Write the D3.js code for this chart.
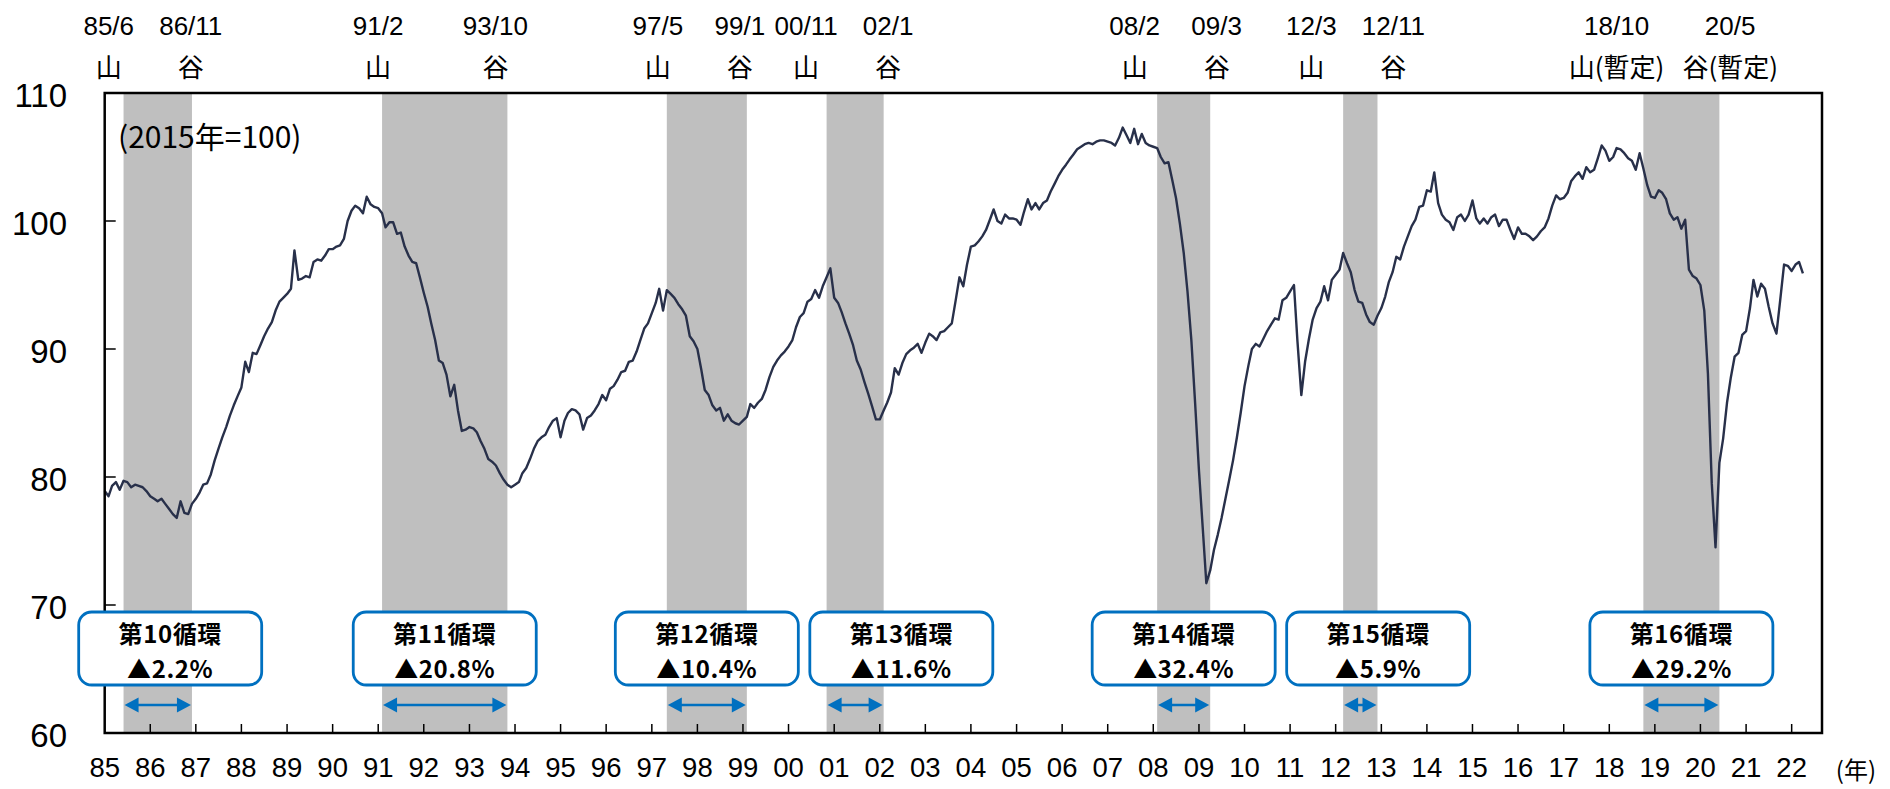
<!DOCTYPE html>
<html><head><meta charset="utf-8">
<script src="https://cdn.jsdelivr.net/npm/d3@7"></script>
<style>body{margin:0;background:#fff}svg{display:block}</style>
</head><body><svg id="chart" width="1890" height="789"></svg>
<script>
// ---------------- data ----------------
const startYear = 1985;           // first month: 1985/1
const iip = [
  78.9,78.5,79.3,79.6,79.0,79.7,79.6,79.2,79.4,79.3,79.2,78.9,          // 1985
  78.5,78.3,78.1,78.3,77.9,77.5,77.1,76.8,78.1,77.2,77.1,77.9,          // 1986
  78.3,78.8,79.4,79.5,80.2,81.3,82.2,83.1,83.9,84.8,85.6,86.3,          // 1987
  87.0,89.0,88.2,89.7,89.6,90.3,91.0,91.6,92.1,93.0,93.7,94.0,          // 1988
  94.3,94.7,97.7,95.4,95.5,95.7,95.6,96.8,97.0,96.9,97.3,97.8,          // 1989
  97.8,98.0,98.1,98.6,100.0,100.8,101.2,101.0,100.6,101.9,101.3,101.1,  // 1990
  101.0,100.6,99.5,99.9,99.9,99.0,99.1,98.0,97.3,96.8,96.7,95.6,        // 1991
  94.4,93.3,92.0,90.7,89.1,88.9,88.0,86.3,87.2,85.2,83.6,83.7,          // 1992
  83.9,83.8,83.5,82.8,82.2,81.4,81.2,80.9,80.3,79.8,79.4,79.2,          // 1993
  79.4,79.6,80.3,80.7,81.4,82.2,82.8,83.1,83.3,83.9,84.4,84.6,          // 1994
  83.1,84.4,85.0,85.3,85.2,84.9,83.7,84.6,84.8,85.2,85.7,86.4,          // 1995
  86.0,86.9,87.1,87.6,88.2,88.3,89.0,89.1,89.8,90.7,91.6,92.0,          // 1996
  92.8,93.6,94.7,93.0,94.6,94.3,94.0,93.5,93.1,92.6,91.0,90.6,          // 1997
  90.0,88.4,86.8,86.4,85.6,85.2,85.4,84.4,84.9,84.4,84.2,84.1,          // 1998
  84.4,84.7,85.7,85.4,85.8,86.1,86.8,87.8,88.6,89.1,89.5,89.8,          // 1999
  90.2,90.7,91.7,92.5,92.8,93.7,93.9,94.6,94.0,94.9,95.6,96.3,          // 2000
  94.0,93.6,92.9,92.0,91.2,90.3,89.1,88.4,87.4,86.5,85.5,84.5,          // 2001
  84.5,85.2,85.8,86.6,88.5,88.0,88.9,89.6,89.9,90.1,90.4,89.7,          // 2002
  90.5,91.2,91.0,90.7,91.3,91.4,91.7,92.0,93.8,95.6,94.9,96.6,          // 2003
  98.0,98.1,98.4,98.8,99.3,100.1,100.9,100.0,99.8,100.5,100.2,100.2,    // 2004
  100.1,99.7,100.7,101.7,100.9,101.4,100.9,101.4,101.6,102.3,102.9,103.5, // 2005
  104.0,104.4,104.8,105.2,105.6,105.8,106.0,106.1,106.0,106.2,106.3,106.3, // 2006
  106.2,106.1,105.9,106.5,107.3,106.7,106.1,107.2,106.0,106.8,106.1,105.9, // 2007
  105.8,105.7,105.0,104.5,104.6,103.2,101.8,99.8,97.5,94.5,90.7,85.8,   // 2008
  80.5,75.9,71.7,72.7,74.3,75.5,76.8,78.3,79.8,81.3,83.1,85.0,          // 2009
  87.1,88.7,90.0,90.4,90.2,90.8,91.4,91.9,92.4,92.3,93.8,94.0,          // 2010
  94.5,95.0,90.6,86.4,89.0,90.8,92.3,93.2,93.7,94.9,93.8,95.4,          // 2011
  95.8,96.2,97.5,96.7,96.0,94.6,93.7,93.6,92.7,92.1,91.9,92.6,          // 2012
  93.2,94.1,95.2,96.0,97.2,97.0,98.0,98.8,99.6,100.1,101.1,101.2,       // 2013
  102.4,102.3,103.8,101.4,100.5,100.1,99.9,99.3,100.3,100.5,100.0,100.5, // 2014
  101.6,100.2,99.8,100.2,99.8,100.3,100.5,99.6,100.1,100.1,99.3,98.6,   // 2015
  99.5,99.0,99.0,98.8,98.5,98.8,99.2,99.5,100.2,101.2,102.0,101.7,      // 2016
  101.8,102.2,103.1,103.5,103.8,103.3,104.2,103.8,104.0,104.9,105.9,105.5, // 2017
  104.7,105.0,105.7,105.6,105.3,104.9,104.7,104.0,105.3,104.1,102.8,101.9, // 2018
  101.8,102.4,102.2,101.7,100.6,100.1,100.3,99.4,100.1,96.2,95.7,95.5,  // 2019
  95.0,93.0,88.1,79.5,74.5,81.1,83.0,85.8,87.8,89.4,89.7,91.1,          // 2020
  91.4,93.2,95.4,94.1,95.1,94.7,93.3,92.0,91.2,93.8,96.6,96.5,          // 2021
  96.1,96.6,96.8,95.9                                                   // 2022
];
const yTickValues = [60, 70, 80, 90, 100, 110];
const cycleNames = ["第10循環","第11循環","第12循環","第13循環","第14循環","第15循環","第16循環"];
const cycleDeclines = [2.2, 20.8, 10.4, 11.6, 32.4, 5.9, 29.2];
const peakDates   = ["1985-06","1991-02","1997-05","2000-11","2008-02","2012-03","2018-10"];
const troughDates = ["1986-11","1993-10","1999-01","2002-01","2009-03","2012-11","2020-05"];
const provisional = [false,false,false,false,false,false,true];
const peakMark = "山", troughMark = "谷", provMark = "(暫定)";
const baseNote = "(2015年=100)";
const yearUnit = "(年)";

// ---------------- layout ----------------
const plot = {left:104.7, right:1822, top:93, bottom:733};
const LAT = "'Liberation Sans', Arial, sans-serif";
const CJK = "'Noto Sans CJK JP', 'Noto Sans CJK SC', sans-serif";
const parse = d3.timeParse("%Y-%m");
const x = d3.scaleTime().domain([new Date(1985,0,1), new Date(2022,8,1)]).range([plot.left, plot.right]);
const y = d3.scaleLinear().domain([60,110]).range([plot.bottom, plot.top]);
const series = iip.map((v,i)=>({date:new Date(startYear, i, 1), v}));
const cycles = cycleNames.map((name,i)=>{
  const peak = parse(peakDates[i]), trough = parse(troughDates[i]);
  return {name, decline:cycleDeclines[i], peak, trough, prov:provisional[i],
          x0:x(peak), x1:x(d3.timeMonth.offset(trough,1))};
});

const svg = d3.select("#chart");
svg.append("rect").attr("width",1890).attr("height",789).attr("fill","#fff");

// recession bands
svg.append("g").selectAll("rect").data(cycles).join("rect")
  .attr("x",d=>d.x0).attr("y",plot.top)
  .attr("width",d=>d.x1-d.x0).attr("height",plot.bottom-plot.top)
  .attr("fill","#bfbfbf");

// line
svg.append("path").datum(series)
  .attr("fill","none").attr("stroke","#28304a").attr("stroke-width",2.4)
  .attr("stroke-linejoin","round")
  .attr("d", d3.line().x(d=>x(d.date)).y(d=>y(d.v)));

// frame
svg.append("rect").attr("x",plot.left).attr("y",plot.top)
  .attr("width",plot.right-plot.left).attr("height",plot.bottom-plot.top)
  .attr("fill","none").attr("stroke","#000").attr("stroke-width",2.5);

// y ticks + labels
const yg = svg.append("g");
yg.selectAll("line").data(yTickValues).join("line")
  .attr("x1",plot.left).attr("x2",plot.left+11)
  .attr("y1",d=>y(d)).attr("y2",d=>y(d)).attr("stroke","#000").attr("stroke-width",1.5);
yg.selectAll("text").data(yTickValues).join("text")
  .attr("x",67).attr("y",d=>y(d)+2).attr("text-anchor","end")
  .attr("dominant-baseline","central")
  .attr("font-family",LAT).attr("font-size",33).text(d=>d);

// x ticks + labels
const tickYears = d3.timeYear.range(new Date(1986,0,1), new Date(2023,0,1));
const labelYears = d3.timeYear.range(new Date(1985,0,1), new Date(2023,0,1));
const xg = svg.append("g");
xg.selectAll("line").data(tickYears).join("line")
  .attr("x1",d=>x(d)).attr("x2",d=>x(d))
  .attr("y1",plot.bottom).attr("y2",plot.bottom-9).attr("stroke","#000").attr("stroke-width",1.5);
xg.selectAll("text").data(labelYears).join("text")
  .attr("x",d=>x(d)).attr("y",767).attr("text-anchor","middle")
  .attr("dominant-baseline","central")
  .attr("font-family",LAT).attr("font-size",27.5).text(d3.timeFormat("%y"));
svg.append("text").attr("x",1876).attr("y",768).attr("text-anchor","end")
  .attr("dominant-baseline","central")
  .attr("font-family",CJK).attr("font-size",24).text(yearUnit);

// base note
svg.append("text").attr("x",118).attr("y",135).attr("dominant-baseline","central")
  .attr("font-family",CJK).attr("font-size",30).text(baseNote);

// top peak / trough labels
const fmtYM = d => d3.timeFormat("%y")(d) + "/" + (d.getMonth()+1);
const topG = svg.append("g");
cycles.forEach(c=>{
  const items = [
    {date:fmtYM(c.peak),   mark:peakMark   + (c.prov?provMark:"")},
    {date:fmtYM(c.trough), mark:troughMark + (c.prov?provMark:"")}
  ];
  const texts = items.map(it=>{
    const t1 = topG.append("text").attr("y",26).attr("text-anchor","middle")
      .attr("dominant-baseline","central").attr("font-family",LAT).attr("font-size",26).text(it.date);
    const t2 = topG.append("text").attr("y",65).attr("text-anchor","middle")
      .attr("dominant-baseline","central").attr("font-family",CJK).attr("font-size",26).text(it.mark);
    return [t1,t2];
  });
  const maxW = d3.max(texts.flat(), t=>t.node().getComputedTextLength());
  const mid = (c.x0 + c.x1)/2 - 8;
  const half = Math.max((c.x1 - c.x0)/2 - 4, 41, maxW/2 + 9);
  texts[0].forEach(t=>t.attr("x", mid - half));
  texts[1].forEach(t=>t.attr("x", mid + half));
});

// cycle boxes
const bw = 183, bh = 73, boxTop = 612, gap = 11.5;
let prevRight = -Infinity;
cycles.forEach(c=>{
  let cx = (c.x0 + c.x1)/2;
  cx = Math.max(cx, plot.left - 26 + bw/2);
  if (cx - bw/2 < prevRight + gap) cx = prevRight + gap + bw/2;
  c.cx = cx; prevRight = cx + bw/2;
});
const boxG = svg.append("g");
boxG.selectAll("rect").data(cycles).join("rect")
  .attr("x",d=>d.cx-bw/2).attr("y",boxTop).attr("width",bw).attr("height",bh)
  .attr("rx",13).attr("ry",13)
  .attr("fill","#fff").attr("stroke","#0070C0").attr("stroke-width",2.8);
boxG.selectAll("text.l1").data(cycles).join("text").attr("class","l1")
  .attr("x",d=>d.cx).attr("y",boxTop+31).attr("text-anchor","middle")
  .attr("font-family",CJK).attr("font-weight","bold").attr("font-size",24)
  .attr("letter-spacing",0.6).text(d=>d.name);
boxG.selectAll("text.l2").data(cycles).join("text").attr("class","l2")
  .attr("x",d=>d.cx).attr("y",boxTop+66).attr("text-anchor","middle")
  .attr("font-family",CJK).attr("font-weight","bold").attr("font-size",24)
  .attr("letter-spacing",0.6).text(d=>"▲" + d.decline.toFixed(1) + "%");

// double arrows
const ay = 705, hl = 14, hh = 7.5, blue = "#0070C0";
const arG = svg.append("g");
cycles.forEach(c=>{
  const a = c.x0 + 1, b = c.x1 - 1;
  arG.append("line").attr("x1",a+hl-2).attr("x2",b-hl+2).attr("y1",ay).attr("y2",ay)
    .attr("stroke",blue).attr("stroke-width",2.5);
  arG.append("path").attr("d",`M${a},${ay}L${a+hl},${ay-hh}L${a+hl},${ay+hh}Z`).attr("fill",blue);
  arG.append("path").attr("d",`M${b},${ay}L${b-hl},${ay-hh}L${b-hl},${ay+hh}Z`).attr("fill",blue);
});
</script>
</body></html>
